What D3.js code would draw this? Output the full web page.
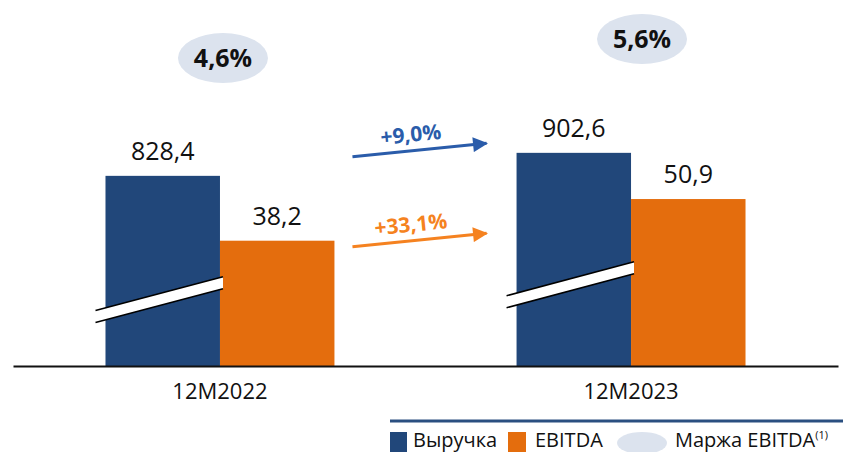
<!DOCTYPE html>
<html>
<head>
<meta charset="utf-8">
<script src="https://cdn.jsdelivr.net/npm/d3@7"></script>
<style>
  html, body { margin: 0; padding: 0; background: #fff; }
  svg { display: block; font-family: "Open Sans", sans-serif; }
</style>
</head>
<body>
<div id="chart"></div>
<script>
const periods = ['12M2022', '12M2023'];
const revenue = [828.4, 902.6];
const ebitda = [38.2, 50.9];
const margin = [4.6, 5.6];
const growth = [9.0, 33.1]; // revenue, EBITDA y/y
const breakAt = [432, 480]; // where the revenue axis is cut
const legendItems = ['Выручка', 'EBITDA', 'Маржа EBITDA'];

const width = 843;
const height = 452;
const baseY = 366;

const blue = '#21477a';
const orange = '#e46d0d';
const arrowBlue = '#2a5caa';
const arrowOrange = '#f58220';
const pill = '#dce3ee';

const ru = d3.formatLocale({ decimal: ',', thousands: ' ', grouping: [3], currency: ['', ' ₽'] });
const fmt = ru.format('.1f');

const svg = d3.select('#chart').append('svg').attr('width', width).attr('height', height);

const x = d3.scaleBand().domain(periods).range([13, 838]).paddingInner(0.443).paddingOuter(0.225);
const sub = d3.scaleBand().domain(['rev', 'ebitda']).range([0, x.bandwidth()]);

// revenue is drawn on a broken axis, EBITDA from zero
const yRev = d3.scaleLinear().domain([215, 1000]).range([baseY, baseY - 0.31 * 785]);
const yEb = d3.scaleLinear().domain([0, 60]).range([baseY, baseY - 3.28 * 60]);
const yMargin = d3.scaleLinear().domain([0, 6]).range([145.4, 31.4]);

const groups = svg.selectAll('g.period')
  .data(periods)
  .enter()
  .append('g')
  .attr('class', 'period')
  .attr('transform', (d) => `translate(${x(d)},0)`);

groups.append('rect')
  .attr('x', sub('rev'))
  .attr('y', (_, i) => yRev(revenue[i]))
  .attr('width', sub.bandwidth())
  .attr('height', (_, i) => baseY - yRev(revenue[i]))
  .attr('fill', blue);

groups.append('rect')
  .attr('x', sub('ebitda'))
  .attr('y', (_, i) => yEb(ebitda[i]))
  .attr('width', sub.bandwidth())
  .attr('height', (_, i) => baseY - yEb(ebitda[i]))
  .attr('fill', orange);

// axis break across the revenue bar
const slope = -34 / 128;
const thick = 12;
groups.each(function (_, i) {
  const g = d3.select(this);
  const x0 = sub('rev') - 10;
  const x1 = sub('rev') + sub.bandwidth() + 3;
  const cx = sub('rev') + sub.bandwidth() / 2;
  const cy = yRev(breakAt[i]);
  const yAt = (xx) => cy + (xx - cx) * slope;
  g.append('path')
    .attr('d', `M${x0},${yAt(x0) - thick / 2}L${x1},${yAt(x1) - thick / 2}L${x1},${yAt(x1) + thick / 2}L${x0},${yAt(x0) + thick / 2}Z`)
    .attr('fill', '#fff');
  [-thick / 2, thick / 2].forEach((o) => {
    g.append('line')
      .attr('x1', x0).attr('y1', yAt(x0) + o)
      .attr('x2', x1).attr('y2', yAt(x1) + o)
      .attr('stroke', '#000')
      .attr('stroke-width', 1.6);
  });
});

// value labels
groups.append('text')
  .attr('x', sub('rev') + sub.bandwidth() / 2)
  .attr('y', (_, i) => yRev(revenue[i]) - 16)
  .attr('text-anchor', 'middle')
  .attr('font-size', 25)
  .attr('fill', '#111')
  .text((_, i) => fmt(revenue[i]));

groups.append('text')
  .attr('x', sub('ebitda') + sub.bandwidth() / 2)
  .attr('y', (_, i) => yEb(ebitda[i]) - 16)
  .attr('text-anchor', 'middle')
  .attr('font-size', 25)
  .attr('fill', '#111')
  .text((_, i) => fmt(ebitda[i]));

// margin pills
const pillOffset = [3, 11];
groups.append('ellipse')
  .attr('cx', (_, i) => x.bandwidth() / 2 + pillOffset[i])
  .attr('cy', (_, i) => yMargin(margin[i]))
  .attr('rx', 45)
  .attr('ry', 25)
  .attr('fill', pill);

groups.append('text')
  .attr('x', (_, i) => x.bandwidth() / 2 + pillOffset[i])
  .attr('y', (_, i) => yMargin(margin[i]) + 9)
  .attr('text-anchor', 'middle')
  .attr('font-size', 25)
  .attr('font-weight', 'bold')
  .attr('fill', '#111')
  .text((_, i) => fmt(margin[i]) + '%');

// baseline axis
const xAxis = d3.axisBottom(x).tickSize(0).tickPadding(17);
const axisG = svg.append('g').attr('transform', `translate(0,${baseY})`).call(xAxis);
axisG.select('.domain').attr('stroke', '#111').attr('stroke-width', 2);
axisG.selectAll('text').attr('font-size', 22).attr('fill', '#111').attr('font-family', '"Open Sans", sans-serif');

// growth arrows between periods
const defs = svg.append('defs');
[arrowBlue, arrowOrange].forEach((c, i) => {
  defs.append('marker')
    .attr('id', 'arr' + i)
    .attr('viewBox', '0 0 10 10')
    .attr('refX', 9).attr('refY', 5)
    .attr('markerWidth', 5.5).attr('markerHeight', 5)
    .attr('markerUnits', 'strokeWidth')
    .attr('orient', 'auto')
    .append('path').attr('d', 'M0,0L10,5L0,10Z').attr('fill', c);
});

const ax0 = x(periods[0]) + x.bandwidth() + 18;
const ax1 = x(periods[1]) - 30;
const arrowY = [[156.7, 143.3], [246.7, 233.3]];
const arrowColors = [arrowBlue, arrowOrange];
growth.forEach((gv, i) => {
  const [y0, y1] = arrowY[i];
  svg.append('line')
    .attr('x1', ax0).attr('y1', y0)
    .attr('x2', ax1).attr('y2', y1)
    .attr('stroke', arrowColors[i])
    .attr('stroke-width', 3)
    .attr('marker-end', `url(#arr${i})`);
  const tx = (ax0 + ax1) / 2 - 8;
  const ty = y0 + (y1 - y0) * ((tx - ax0) / (ax1 - ax0)) - 9;
  const ang = Math.atan2(y1 - y0, ax1 - ax0) * 180 / Math.PI;
  svg.append('text')
    .attr('transform', `translate(${tx},${ty}) rotate(${ang})`)
    .attr('text-anchor', 'middle')
    .attr('font-size', 21)
    .attr('font-weight', 'bold')
    .attr('fill', arrowColors[i])
    .text('+' + fmt(gv) + '%');
});

// legend
svg.append('line')
  .attr('x1', 390).attr('x2', width)
  .attr('y1', 421).attr('y2', 421)
  .attr('stroke', '#2a4f80')
  .attr('stroke-width', 3);

const lg = svg.append('g').attr('font-size', 20).attr('fill', '#111');
lg.append('rect').attr('x', 390).attr('y', 432).attr('width', 17).attr('height', 22).attr('fill', blue);
lg.append('text').attr('x', 413).attr('y', 447).text(legendItems[0]);
lg.append('rect').attr('x', 508).attr('y', 432).attr('width', 18).attr('height', 22).attr('fill', orange);
lg.append('text').attr('x', 535).attr('y', 447).text(legendItems[1]);
lg.append('ellipse').attr('cx', 642).attr('cy', 443).attr('rx', 25).attr('ry', 11).attr('fill', pill);
const mt = lg.append('text').attr('x', 675).attr('y', 447).text(legendItems[2]);
mt.append('tspan').attr('font-size', 11).attr('dy', -8).text('(1)');
</script>
</body>
</html>
